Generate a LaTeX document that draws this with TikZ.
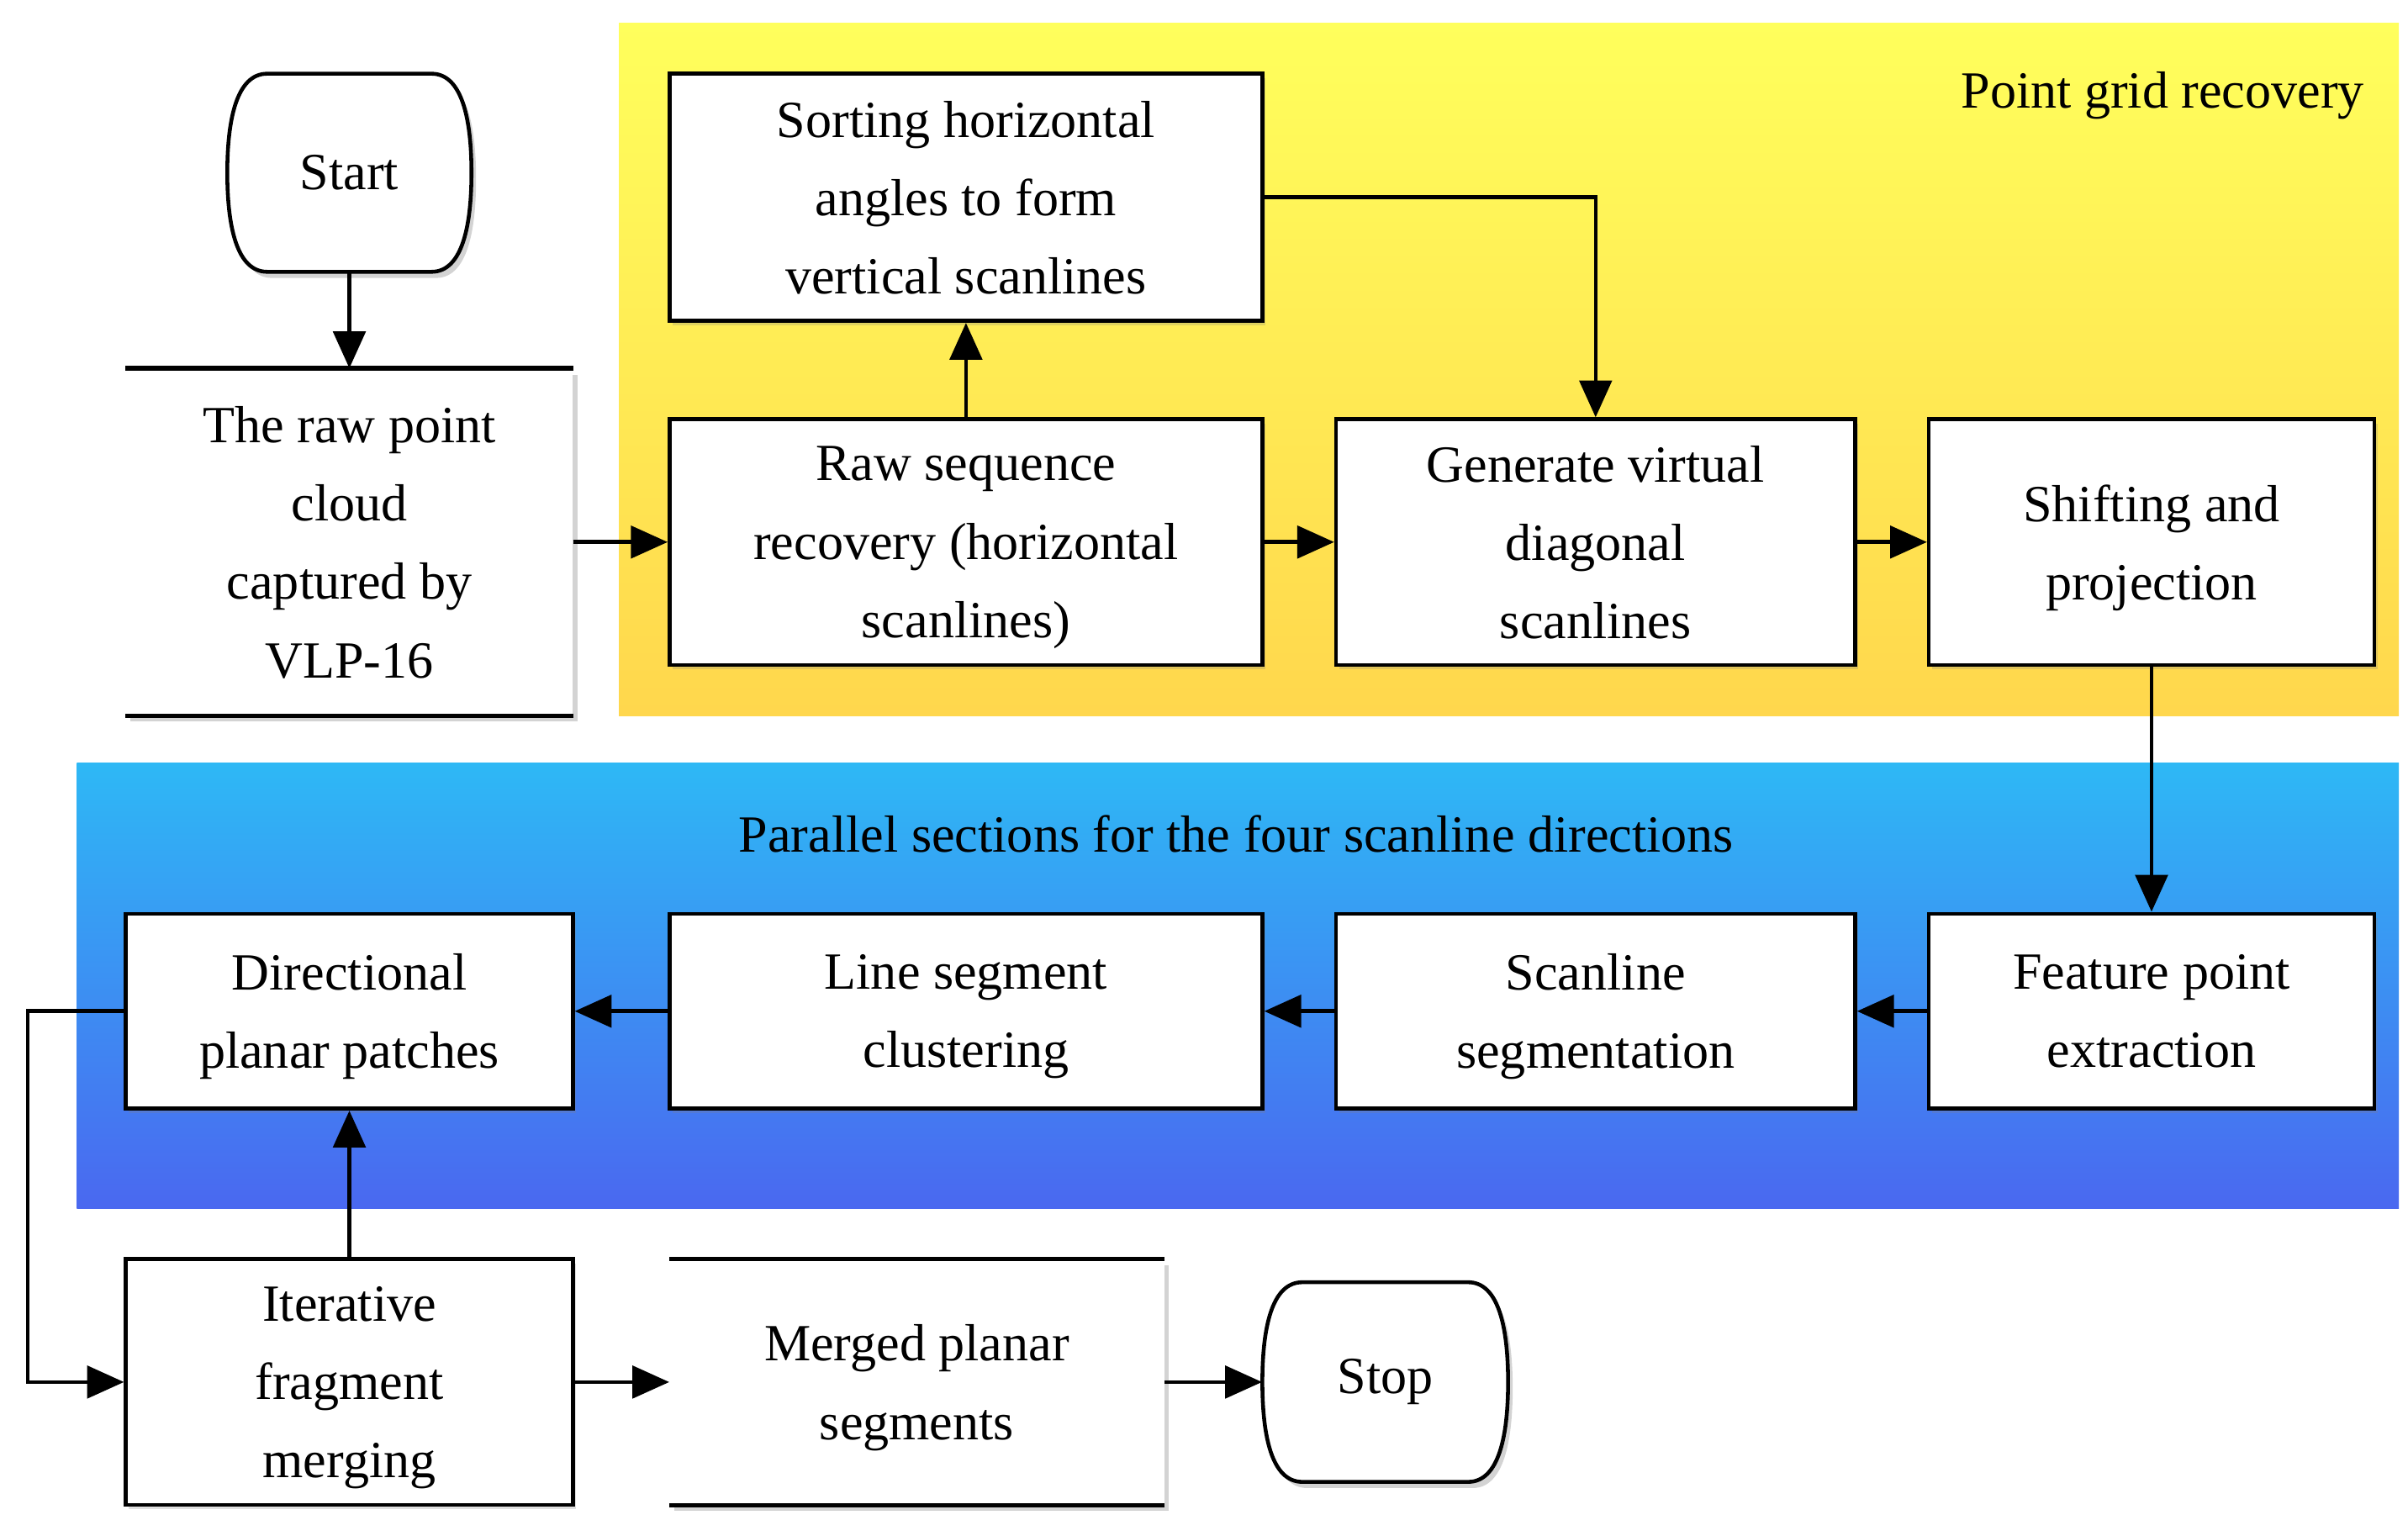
\documentclass[tikz,border=0pt]{standalone}
\usepackage{fontspec}
\setmainfont{Liberation Serif}
\usetikzlibrary{shadows,arrows.meta}
\begin{document}
\begin{tikzpicture}[x=1pt,y=-1pt,
  box/.style={draw,line width=2.5pt,fill=white,align=center,inner sep=0pt,text depth=-6pt,font=\fontsize{34}{51}\selectfont,drop shadow={shadow xshift=2pt,shadow yshift=-3pt,opacity=0.25}},
  open/.style={fill=white,align=center,inner sep=0pt,text depth=-6pt,font=\fontsize{34}{51}\selectfont,drop shadow={shadow xshift=3pt,shadow yshift=-4pt,opacity=0.35}},
  arr/.style={line width=2.5pt,-{Triangle[length=24pt,width=21pt]}},
  term/.style={draw,line width=2.5pt,fill=white,drop shadow={shadow xshift=3pt,shadow yshift=-4pt,opacity=0.35}},
  lbl/.style={font=\fontsize{34}{51}\selectfont}]
\useasboundingbox (0,0) rectangle (1568,1000);
\shade[top color=yellow!60!white!90!yellow, bottom color=orange!45!yellow!70] (403,15) rectangle (1562,466);
\shade[top color={rgb,255:red,46;green,184;blue,245}, bottom color={rgb,255:red,74;green,104;blue,240}] (50,497) rectangle (1562,787);
\node[lbl,anchor=east] (t1) at (1543,62) {Point grid recovery};
\node[lbl] (t2) at (805,543) {Parallel sections for the four scanline directions};
% terminals
\def\term#1#2#3#4{\path[term] (#1+26,#2) -- (#3-26,#2) .. controls (#3-6,#2) and (#3,#2+30) .. (#3,#2/2+#4/2) .. controls (#3,#4-30) and (#3-6,#4) .. (#3-26,#4) -- (#1+26,#4) .. controls (#1+6,#4) and (#1,#4-30) .. (#1,#2/2+#4/2) .. controls (#1,#2+30) and (#1+6,#2) .. (#1+26,#2) -- cycle;}
\term{148}{48}{307}{177}
\term{822}{835}{982}{965}
\node[lbl,minimum width=159,minimum height=129] (start) at (227.5,112.5) {Start};
\node[lbl,minimum width=160,minimum height=130] (stop) at (902,900) {Stop};
% open boxes
\node[open,minimum width=291,minimum height=226] (raw) at (227.5,353) {The raw point\\cloud\\captured by\\VLP-16};
\draw[line width=3pt] (raw.north west) -- (raw.north east) (raw.south west) -- (raw.south east);
\node[open,minimum width=322,minimum height=160] (merged) at (597,900) {Merged planar\\segments};
\draw[line width=3pt] (merged.north west) -- (merged.north east) (merged.south west) -- (merged.south east);
% boxes
\node[box,minimum width=386,minimum height=161] (sort) at (629,128.5) {Sorting horizontal\\angles to form\\vertical scanlines};
\node[box,minimum width=386,minimum height=160] (rseq) at (629,353) {Raw sequence\\recovery (horizontal\\scanlines)};
\node[box,minimum width=338,minimum height=160] (gen) at (1039,353) {Generate virtual\\diagonal\\scanlines};
\node[box,minimum width=290,minimum height=160] (shift) at (1401,353) {Shifting and\\projection};
\node[box,minimum width=290,minimum height=127] (feat) at (1401,658.5) {Feature point\\extraction};
\node[box,minimum width=338,minimum height=127] (sseg) at (1039,658.5) {Scanline\\segmentation};
\node[box,minimum width=386,minimum height=127] (lseg) at (629,658.5) {Line segment\\clustering};
\node[box,minimum width=291,minimum height=127] (dir) at (227.5,658.5) {Directional\\planar patches};
\node[box,minimum width=291,minimum height=160] (iter) at (227.5,900) {Iterative\\fragment\\merging};
% arrows
\draw[arr] (start) -- (raw);
\draw[arr] (raw.east |- rseq) -- (rseq);
\draw[arr] (rseq) -- (sort);
\draw[arr] (sort.east) -| (gen.north);
\draw[arr] (rseq) -- (gen);
\draw[arr] (gen) -- (shift);
\draw[arr] (shift) -- (feat);
\draw[arr] (feat) -- (sseg);
\draw[arr] (sseg) -- (lseg);
\draw[arr] (lseg) -- (dir);
\coordinate (c1) at (18,658.5);
\coordinate (c2) at (18,900);
\draw[arr] (dir.west) -- (c1) -- (c2) -- (iter.west);
\draw[arr] (iter) -- (dir);
\draw[arr] (iter) -- (merged.west);
\draw[arr] (merged.east) -- (stop.west);
\end{tikzpicture}
\end{document}
